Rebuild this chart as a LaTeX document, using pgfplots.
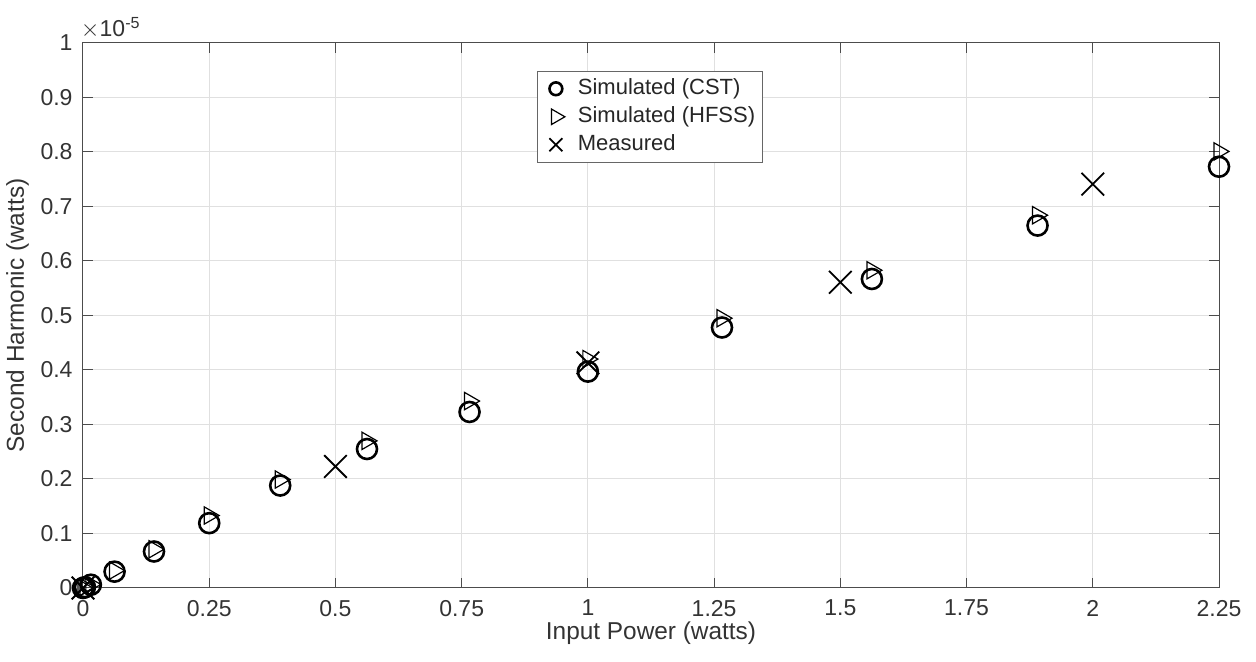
\documentclass[border=0pt]{standalone}
\usepackage{fontspec}
\setmainfont{Liberation Sans}
\usepackage{pgfplots}
\pgfplotsset{compat=1.18}
\begin{document}
\begin{tikzpicture}
\path[use as bounding box] (-41.5pt,-37pt) rectangle (586.5pt,294pt);
\begin{axis}[
  at={(0,0)}, anchor=south west,
  scale only axis, width=568pt, height=272.5pt,
  xmin=0, xmax=2.25, ymin=0, ymax=1e-5,
  xtick={0,0.25,0.5,0.75,1,1.25,1.5,1.75,2,2.25},
  ytick={0,1e-6,2e-6,3e-6,4e-6,5e-6,6e-6,7e-6,8e-6,9e-6,1e-5},
  scaled x ticks=false,
  scaled y ticks=base 10:5,
  ytick scale label code/.code={$\times$10\textsuperscript{#1}},
  every y tick scale label/.style={at={(rel axis cs:0,1)}, anchor=base west, xshift=0.5pt, yshift=3pt, inner sep=0pt, font=\fontsize{11.5}{13}\selectfont, text=black!80},
  grid=major, grid style={black!12, line width=0.5pt},
  tick align=inside, major tick length=5pt,
  axis line style={black!70, line width=0.5pt},
  tick style={black!70, line width=0.5pt},
  /pgf/number format/assume math mode=true,
  ticklabel style={font=\fontsize{11.5}{13}\selectfont, text=black!80},
  xticklabel style={/pgf/number format/fixed, /pgf/number format/precision=2, yshift=-2.5pt},
  yticklabel style={/pgf/number format/fixed, /pgf/number format/precision=1, xshift=-1.7pt},
  xlabel={Input Power (watts)}, ylabel={Second Harmonic (watts)},
  label style={font=\fontsize{12.2}{14}\selectfont, text=black!80},
  xlabel style={at={(axis description cs:0.5,-0.0826)}, anchor=center},
  ylabel style={at={(axis description cs:-0.0575,0.5)}, anchor=center},
  clip=false,
  legend style={at={(rel axis cs:0.4,0.949)}, anchor=north west, draw=black!60, line width=0.5pt,
    font=\fontsize{11}{13}\selectfont, text=black!85, inner sep=2pt, row sep=0.5pt,
    nodes={inner sep=1.5pt, text height=8pt, text depth=2.5pt}},
  legend cell align=left,
  legend image code/.code={\path[draw=none,fill=none] (-7pt,-1pt) rectangle (9.5pt,1pt); \draw[#1] plot coordinates {(0pt,0pt)};},
]
\addplot[only marks, mark=o, mark size=5pt, mark options={line width=1.3pt, draw=black}, legend image post style={mark size=3.2pt}] coordinates {
(0,0) (0.0039,0.015e-6) (0.0156,0.06e-6) (0.0625,0.30e-6) (0.1406,0.67e-6) (0.25,1.19e-6)
(0.3906,1.88e-6) (0.5625,2.55e-6) (0.7656,3.23e-6) (1.0,3.97e-6) (1.2656,4.78e-6)
(1.5625,5.67e-6) (1.8906,6.65e-6) (2.25,7.73e-6)};
\addlegendentry{Simulated (CST)}
\addplot[only marks, mark=triangle, mark size=5pt, mark options={rotate=-90, line width=0.6pt, draw=black}, legend image post style={mark size=4.5pt}] coordinates {
(0,0) (0.0039,0.016e-6) (0.0156,0.065e-6) (0.0625,0.32e-6) (0.1406,0.71e-6) (0.25,1.33e-6)
(0.3906,1.99e-6) (0.5625,2.70e-6) (0.7656,3.43e-6) (1.0,4.20e-6) (1.2656,4.95e-6)
(1.5625,5.83e-6) (1.8906,6.84e-6) (2.25,8.01e-6)};
\addlegendentry{Simulated (HFSS)}
\addplot[only marks, mark=x, mark size=8pt, mark options={line width=0.9pt, draw=black}, legend image post style={mark size=4.6pt}] coordinates {
(0,0) (0.5,2.23e-6) (1.0,4.13e-6) (1.5,5.61e-6) (2.0,7.41e-6)};
\addlegendentry{Measured}
\end{axis}
\end{tikzpicture}
\end{document}
